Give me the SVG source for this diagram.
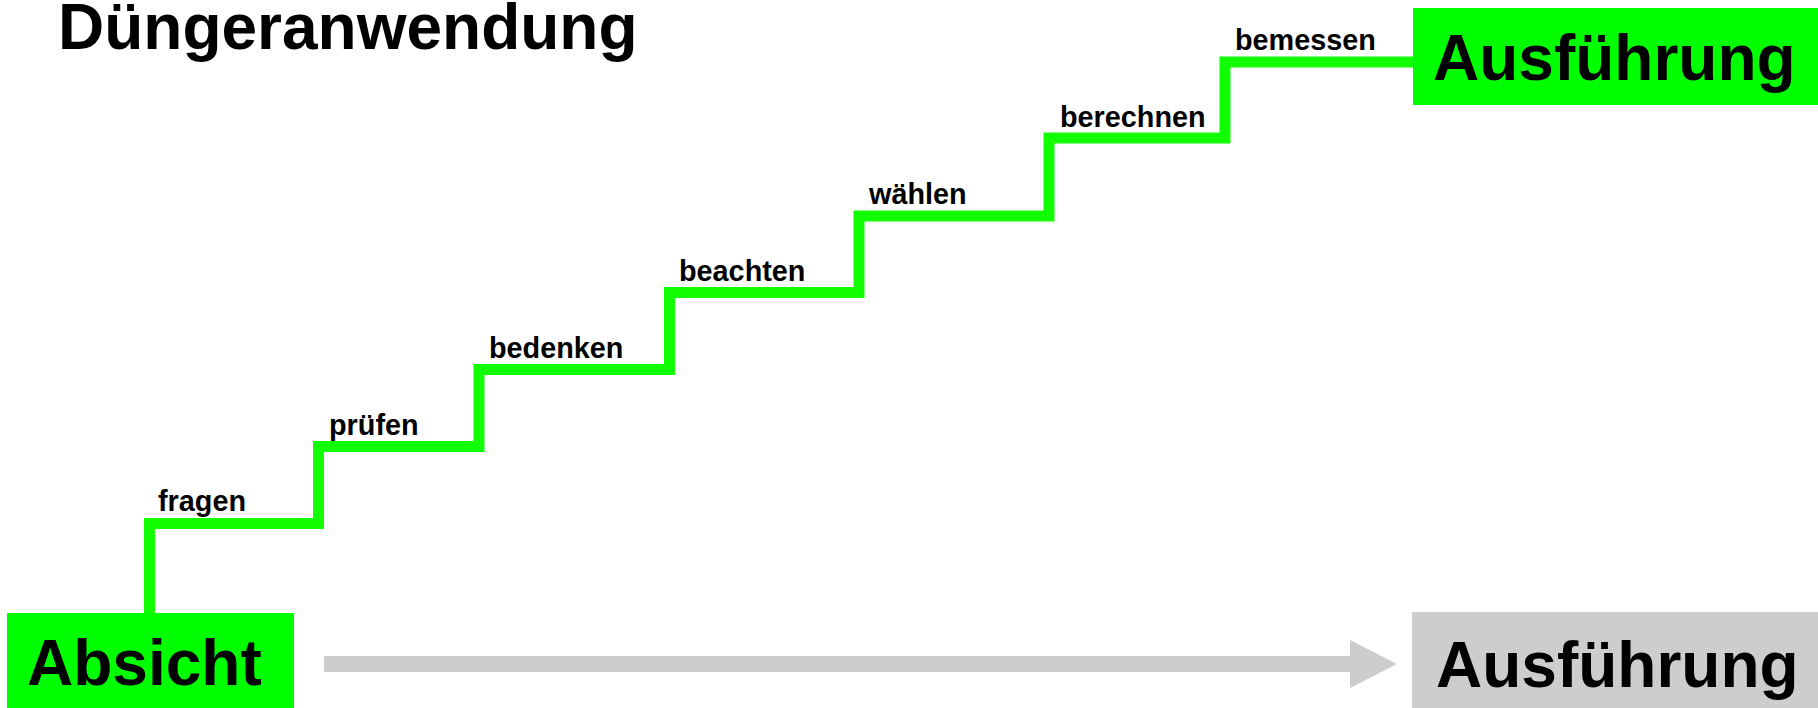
<svg xmlns="http://www.w3.org/2000/svg" width="1818" height="708" viewBox="0 0 1818 708">
<style>
text{font-family:"Liberation Sans",Arial,sans-serif;font-weight:bold;fill:#000}
.big{font-size:64px}
.lbl{font-size:28.8px}
.green{fill:#00ff00}
.gray{fill:#cdcdcd}
</style>
<rect width="1818" height="708" fill="#fff"/>
<g id="title"><text x="58" y="49" class="big">Düngeranwendung</text></g>
<g id="connectors">
<path d="M149.5,613 V523.5 H318.5 V446.5 H479 V369.5 H669.5 V292.5 H859 V216 H1049 V138 H1225 V62 H1413" fill="none" stroke="#11ff00" stroke-width="11" stroke-linejoin="miter"/>
<path d="M324,656 H1350 V640 L1397,664 L1350,688 V672 H324 Z" class="gray"/>
</g>
<g id="labels" class="lbl">
<text x="158" y="511" class="lbl">fragen</text>
<text x="329" y="435" class="lbl">prüfen</text>
<text x="489" y="358" class="lbl">bedenken</text>
<text x="679" y="281" class="lbl">beachten</text>
<text x="869" y="204" class="lbl">wählen</text>
<text x="1060" y="127" class="lbl">berechnen</text>
<text x="1235" y="50" class="lbl">bemessen</text>
</g>
<g id="absicht"><rect x="7" y="613" width="287" height="95" class="green"/><text x="27" y="685" class="big">Absicht</text></g>
<g id="ausfuehrung-top"><rect x="1413" y="8" width="405" height="97" class="green"/><text x="1433" y="80" class="big">Ausführung</text></g>
<g id="ausfuehrung-bottom"><rect x="1412" y="612" width="406" height="96" class="gray"/><text x="1436" y="687" class="big">Ausführung</text></g>
</svg>
